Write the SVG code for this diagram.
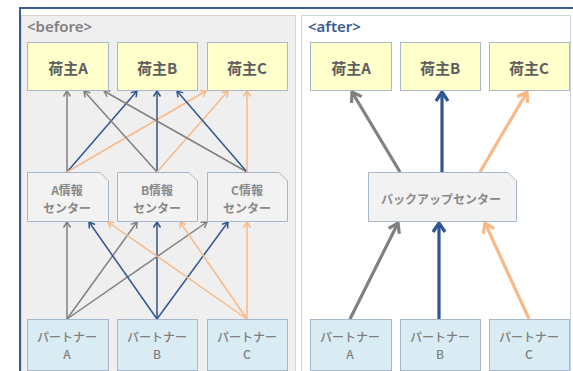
<svg xmlns="http://www.w3.org/2000/svg" width="573" height="371" viewBox="0 0 573 371">
<style>
.frame{fill:none;stroke:#3b5d94;stroke-width:2}
.lp{fill:#efefef;stroke:#d6d6d6;stroke-width:1}
.rp{fill:#ffffff;stroke:#c9d5e3;stroke-width:1}
.y{fill:#ffffcc;stroke:#a9b8c9;stroke-width:1}
.m{fill:#f2f2f2;stroke:#a9b8c9;stroke-width:1}
.p{fill:#daecf3;stroke:#a9b8c9;stroke-width:1}
.ty{font-family:"Noto Sans CJK JP","Noto Sans",sans-serif;font-size:15px;font-weight:bold;fill:#5e5e5e;text-anchor:middle;dominant-baseline:central}
.tm{font-family:"Noto Sans CJK JP","Noto Sans",sans-serif;font-size:12px;font-weight:bold;fill:#8a8a8a;text-anchor:middle;dominant-baseline:central}
.tp{font-family:"Noto Sans CJK JP","Noto Sans",sans-serif;font-size:12px;font-weight:500;fill:#7f7f7f;text-anchor:middle;dominant-baseline:central}
.hd{font-family:"Noto Sans",sans-serif;font-size:15px;font-weight:600}
.g{stroke:#808080;fill:none}
.b{stroke:#2f5592;fill:none}
.o{stroke:#f8b987;fill:none}
.thin{stroke-width:1.5}
.thick{stroke-width:3.2}
</style>
<defs>
<marker id="ag" markerUnits="userSpaceOnUse" markerWidth="10" markerHeight="10" refX="6" refY="4" orient="auto" overflow="visible"><path d="M0.5,0.5 L6,4 L0.5,7.5" fill="none" stroke="#808080" stroke-width="1.5"/></marker>
<marker id="ab" markerUnits="userSpaceOnUse" markerWidth="10" markerHeight="10" refX="6" refY="4" orient="auto" overflow="visible"><path d="M0.5,0.5 L6,4 L0.5,7.5" fill="none" stroke="#2f5592" stroke-width="1.5"/></marker>
<marker id="ao" markerUnits="userSpaceOnUse" markerWidth="10" markerHeight="10" refX="6" refY="4" orient="auto" overflow="visible"><path d="M0.5,0.5 L6,4 L0.5,7.5" fill="none" stroke="#f8b987" stroke-width="1.5"/></marker>
<marker id="Ag" markerUnits="userSpaceOnUse" markerWidth="16" markerHeight="16" refX="10" refY="7" orient="auto" overflow="visible"><path d="M1,1 L10,7 L1,13" fill="none" stroke="#808080" stroke-width="3.2"/></marker>
<marker id="Ab" markerUnits="userSpaceOnUse" markerWidth="16" markerHeight="16" refX="10" refY="7" orient="auto" overflow="visible"><path d="M1,1 L10,7 L1,13" fill="none" stroke="#2f5592" stroke-width="3.2"/></marker>
<marker id="Ao" markerUnits="userSpaceOnUse" markerWidth="16" markerHeight="16" refX="10" refY="7" orient="auto" overflow="visible"><path d="M1,1 L10,7 L1,13" fill="none" stroke="#f8b987" stroke-width="3.2"/></marker>
</defs>

<path class="frame" d="M20,371 V8 H573"/>
<rect class="lp" x="21.5" y="15.5" width="274" height="360"/>
<rect class="rp" x="301.5" y="15.5" width="269" height="360"/>
<text class="hd" x="27" y="32" fill="#808080">&lt;before&gt;</text>
<text class="hd" x="308" y="32" fill="#3b5d94">&lt;after&gt;</text>

<g id="connectors">
<line class="g thin" x1="67" y1="172" x2="67" y2="91" marker-end="url(#ag)"/>
<line class="b thin" x1="67" y1="172" x2="137" y2="91" marker-end="url(#ab)"/>
<line class="o thin" x1="67" y1="172" x2="206" y2="91" marker-end="url(#ao)"/>
<line class="g thin" x1="157" y1="172" x2="84" y2="91" marker-end="url(#ag)"/>
<line class="b thin" x1="157" y1="172" x2="157" y2="91" marker-end="url(#ab)"/>
<line class="o thin" x1="157" y1="172" x2="228" y2="91" marker-end="url(#ao)"/>
<line class="g thin" x1="247" y1="172" x2="104" y2="91" marker-end="url(#ag)"/>
<line class="b thin" x1="247" y1="172" x2="177" y2="91" marker-end="url(#ab)"/>
<line class="o thin" x1="247" y1="172" x2="247" y2="91" marker-end="url(#ao)"/>
<line class="g thin" x1="67" y1="319" x2="67" y2="222" marker-end="url(#ag)"/>
<line class="g thin" x1="67" y1="319" x2="137" y2="222" marker-end="url(#ag)"/>
<line class="g thin" x1="67" y1="319" x2="207" y2="222" marker-end="url(#ag)"/>
<line class="b thin" x1="157" y1="319" x2="89" y2="222" marker-end="url(#ab)"/>
<line class="b thin" x1="157" y1="319" x2="157" y2="222" marker-end="url(#ab)"/>
<line class="b thin" x1="157" y1="319" x2="228" y2="222" marker-end="url(#ab)"/>
<line class="o thin" x1="247" y1="319" x2="108" y2="222" marker-end="url(#ao)"/>
<line class="o thin" x1="247" y1="319" x2="180" y2="222" marker-end="url(#ao)"/>
<line class="o thin" x1="247" y1="319" x2="247" y2="222" marker-end="url(#ao)"/>
<line class="g thick" x1="400" y1="172" x2="352" y2="92" marker-end="url(#Ag)"/>
<line class="b thick" x1="442" y1="172" x2="442" y2="92" marker-end="url(#Ab)"/>
<line class="o thick" x1="480" y1="172" x2="527" y2="92" marker-end="url(#Ao)"/>
<line class="g thick" x1="350" y1="319" x2="398" y2="223" marker-end="url(#Ag)"/>
<line class="b thick" x1="439" y1="319" x2="439" y2="223" marker-end="url(#Ab)"/>
<line class="o thick" x1="529" y1="319" x2="485" y2="223" marker-end="url(#Ao)"/>
</g>

<g id="b-shipperA"><rect class="y" x="27.5" y="42.5" width="81" height="48"/><text class="ty" x="68" y="67">荷主A</text></g>
<g id="b-shipperB"><rect class="y" x="117.5" y="42.5" width="80" height="48"/><text class="ty" x="157" y="67">荷主B</text></g>
<g id="b-shipperC"><rect class="y" x="207.5" y="42.5" width="80" height="48"/><text class="ty" x="247" y="67">荷主C</text></g>

<g id="b-centerA"><path class="m" d="M27.5,172.5 H100 L108.5,181 V221.5 H27.5 Z"/><text class="tm" x="67" y="189.5">A情報</text><text class="tm" x="67" y="207.5">センター</text></g>
<g id="b-centerB"><path class="m" d="M117.5,172.5 H189 L197.5,181 V221.5 H117.5 Z"/><text class="tm" x="157" y="189.5">B情報</text><text class="tm" x="157" y="207.5">センター</text></g>
<g id="b-centerC"><path class="m" d="M207.5,172.5 H279 L287.5,181 V221.5 H207.5 Z"/><text class="tm" x="247" y="189.5">C情報</text><text class="tm" x="247" y="207.5">センター</text></g>

<g id="b-partnerA"><rect class="p" x="27.5" y="319.5" width="81" height="51"/><text class="tp" x="67" y="336">パートナー</text><text class="tp" x="67" y="353">A</text></g>
<g id="b-partnerB"><rect class="p" x="117.5" y="319.5" width="80" height="51"/><text class="tp" x="157" y="336">パートナー</text><text class="tp" x="157" y="353">B</text></g>
<g id="b-partnerC"><rect class="p" x="207.5" y="319.5" width="80" height="51"/><text class="tp" x="247" y="336">パートナー</text><text class="tp" x="247" y="353">C</text></g>

<g id="a-shipperA"><rect class="y" x="310.5" y="42.5" width="81" height="48"/><text class="ty" x="351" y="67">荷主A</text></g>
<g id="a-shipperB"><rect class="y" x="400.5" y="42.5" width="80" height="48"/><text class="ty" x="440" y="67">荷主B</text></g>
<g id="a-shipperC"><rect class="y" x="489.5" y="42.5" width="80" height="48"/><text class="ty" x="529" y="67">荷主C</text></g>

<g id="a-backup"><path class="m" d="M368.5,172.5 H508 L516.5,181 V221.5 H368.5 Z"/><text class="tm" x="441" y="198">バックアップセンター</text></g>

<g id="a-partnerA"><rect class="p" x="310.5" y="319.5" width="81" height="51"/><text class="tp" x="350" y="336">パートナー</text><text class="tp" x="350" y="353">A</text></g>
<g id="a-partnerB"><rect class="p" x="400.5" y="319.5" width="80" height="51"/><text class="tp" x="440" y="336">パートナー</text><text class="tp" x="440" y="353">B</text></g>
<g id="a-partnerC"><rect class="p" x="489.5" y="319.5" width="80" height="51"/><text class="tp" x="529" y="336">パートナー</text><text class="tp" x="529" y="353">C</text></g>
</svg>
